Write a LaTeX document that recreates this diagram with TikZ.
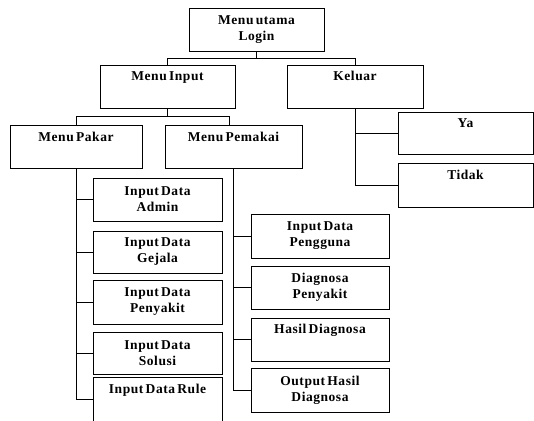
\documentclass[tikz,border=0pt]{standalone}
\usepackage{fontspec}
\setmainfont{Liberation Serif}[LetterSpace=4,WordSpace=0.6]
\begin{document}
\begin{tikzpicture}[x=1pt,y=1pt,
    menu/.style={draw,fill=white,line width=0.9pt,minimum height=43pt,inner sep=0pt,
      align=center,font=\fontsize{13.5}{16}\selectfont\bfseries}]
      \useasboundingbox (0,0) rectangle (534,-420);
      \draw
        (256.5,-30) node[menu,minimum width=135pt] (login){Menu utama\\Login}
        (167.5,-86.5) node[menu,minimum width=135pt] (input){Menu Input\\\strut}
        (355,-86.5) node[menu,minimum width=136pt] (keluar){Keluar\\\strut}
        (76,-147) node[menu,minimum width=132pt] (pakar){Menu Pakar\\\strut}
        (233.5,-147) node[menu,minimum width=137pt] (pemakai){Menu Pemakai\\\strut}
        (465.5,-133) node[menu,minimum width=135pt,minimum height=42pt] (ya){Ya\\\strut}
        (465.5,-185) node[menu,minimum width=135pt,minimum height=44pt] (tidak){Tidak\\\strut}
        (157.5,-199.5) node[menu,minimum width=129pt] (admin){Input Data\\Admin}
        (157.5,-252) node[menu,minimum width=129pt,minimum height=42pt] (gejala){Input Data\\Gejala}
        (157.5,-302) node[menu,minimum width=129pt,minimum height=44pt] (penyakit){Input Data\\Penyakit}
        (157.5,-353) node[menu,minimum width=129pt,minimum height=42pt] (solusi){Input Data\\Solusi}
        (157.5,-399) node[menu,minimum width=129pt,minimum height=44pt] (rule){Input Data Rule\\\strut}
        (320,-236) node[menu,minimum width=138pt,minimum height=44pt] (pengguna){Input Data\\Pengguna}
        (320,-287.5) node[menu,minimum width=138pt] (diagnosa){Diagnosa\\Penyakit}
        (320,-339.5) node[menu,minimum width=138pt] (hasil){Hasil Diagnosa\\\strut}
        (320,-390) node[menu,minimum width=138pt,minimum height=44pt] (output){Output Hasil\\Diagnosa};
      \coordinate (j1) at (256.5,-58);
      \coordinate (j2) at (167.5,-116);
      \begin{scope}[-,line width=0.9pt]
        \draw (login) -- (j1);
        \draw (j1) -| (input);
        \draw (j1) -| (keluar);
        \draw (input) -- (j2);
        \draw (j2) -| (pakar);
        \draw (j2) -| ([xshift=-4.5pt]pemakai.north);
        \draw (keluar.south) |- (ya.west);
        \draw (keluar.south) |- (tidak.west);
        \draw (pakar.south) |- (admin.west);
        \draw (pakar.south) |- (gejala.west);
        \draw (pakar.south) |- (penyakit.west);
        \draw (pakar.south) |- (solusi.west);
        \draw (pakar.south) |- (rule.west);
        \draw (pemakai.south) |- (pengguna.west);
        \draw (pemakai.south) |- (diagnosa.west);
        \draw (pemakai.south) |- (hasil.west);
        \draw (pemakai.south) |- (output.west);
      \end{scope}
    \end{tikzpicture}
\end{document}
